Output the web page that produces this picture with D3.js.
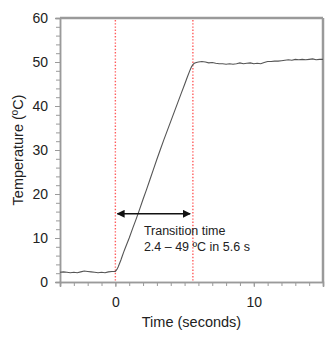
<!DOCTYPE html>
<html>
<head>
<meta charset="utf-8">
<script src="https://cdn.jsdelivr.net/npm/d3@7"></script>
<style>
  body { margin: 0; background: #fff; }
  text { font-family: "Liberation Sans", Arial, sans-serif; fill: #222; }
</style>
</head>
<body>
<svg id="chart" width="328" height="339"></svg>
<script>
// temperature trace
var times = [-4, -3.75, -3.5, -3.25, -3, -2.75, -2.5, -2.25, -2, -1.75, -1.5, -1.25, -1, -0.75, -0.5, -0.25, 0,
  0.1, 0.2, 0.3, 0.4, 0.5, 0.6, 0.7, 0.8, 1, 1.25, 1.5, 1.75, 2, 2.25, 2.5, 2.75, 3, 3.25, 3.5, 3.75, 4, 4.25, 4.5, 4.75, 5, 5.2, 5.4, 5.5, 5.6, 5.7, 5.85,
  6, 6.25, 6.5, 6.75, 7, 7.25, 7.5, 7.75, 8, 8.25, 8.5, 8.75, 9, 9.25, 9.5, 9.75, 10, 10.25, 10.5, 10.75, 11, 11.25, 11.5, 11.75,
  12, 12.25, 12.5, 12.75, 13, 13.25, 13.5, 13.75, 14, 14.25, 14.5, 14.75, 15];
var temps = [2.2, 2.3, 2.2, 2.1, 2.2, 2.1, 2.3, 2.5, 2.4, 2.3, 2.2, 2.1, 2.2, 2.1, 2.3, 2.4, 2.4,
  2.8, 3.4, 4.2, 5.0, 5.9, 6.8, 7.6, 8.4, 10.0, 12.2, 14.3, 16.5, 18.8, 21.0, 23.3, 25.6, 27.9, 30.1, 32.3, 34.4, 36.5, 38.6, 40.7, 42.8, 44.9, 46.6, 48.2, 48.9, 49.4, 49.7, 49.9,
  50.0, 50.1, 50.0, 49.8, 49.9, 49.7, 49.6, 49.6, 49.5, 49.6, 49.5, 49.6, 49.8, 49.6, 49.7, 49.8, 49.6, 49.7, 49.6, 49.9, 50.1, 50.1, 50.2, 50.2,
  50.3, 50.4, 50.5, 50.4, 50.6, 50.5, 50.6, 50.5, 50.6, 50.7, 50.5, 50.6, 50.6];

var markerTimes = [0, 5.6];       // red dotted lines
var arrowSpan = [0.15, 5.4];      // transition arrow, seconds
var arrowTemp = 15.5;
var noteLines = ["Transition time", "2.4 \u2013 49 \u00BAC in 5.6 s"];
var xMajor = [0, 10];
var yMajor = [0, 10, 20, 30, 40, 50, 60];

var margin = {top: 18, right: 5, bottom: 57, left: 60};
var w = 328, h = 339;
var iw = w - margin.left - margin.right;
var ih = h - margin.top - margin.bottom;

var svg = d3.select("#chart");
var g = svg.append("g").attr("transform", "translate(" + margin.left + "," + margin.top + ")");

var x = d3.scaleLinear().domain([-4, 15]).range([0, iw]);
var y = d3.scaleLinear().domain([0, 60]).range([ih, 0]);

var axisColor = "#9a9a9a";

// minor ticks
var xAxisMinor = d3.axisBottom(x).tickValues(d3.range(-4, 16, 1)).tickSize(4).tickFormat("");
var yAxisMinor = d3.axisLeft(y).tickValues(d3.range(0, 61, 2)).tickSize(4).tickFormat("");
g.append("g").attr("transform", "translate(0," + ih + ")").call(xAxisMinor);
g.append("g").call(yAxisMinor);

// major ticks with labels
var xAxis = d3.axisBottom(x).tickValues(xMajor).tickSize(5).tickPadding(10).tickFormat(d3.format("d"));
var yAxis = d3.axisLeft(y).tickValues(yMajor).tickSize(5).tickPadding(7).tickFormat(d3.format("d"));
g.append("g").attr("class", "xa").attr("transform", "translate(0," + ih + ")").call(xAxis);
g.append("g").attr("class", "ya").call(yAxis);

g.selectAll(".domain").attr("stroke", axisColor).attr("stroke-width", 1.5);
g.selectAll(".tick line").attr("stroke", axisColor);
g.selectAll(".tick text").style("font-size", "14px").attr("fill", "#222");

// top and right frame
g.append("line").attr("x1", 0).attr("x2", iw).attr("y1", 0).attr("y2", 0)
  .attr("stroke", axisColor).attr("stroke-width", 2.5);
g.append("line").attr("x1", iw).attr("x2", iw).attr("y1", 0).attr("y2", ih)
  .attr("stroke", axisColor).attr("stroke-width", 2.5);

// red dotted markers
g.selectAll(".marker").data(markerTimes).enter().append("line")
  .attr("class", "marker")
  .attr("x1", function(d) { return x(d); })
  .attr("x2", function(d) { return x(d); })
  .attr("y1", 2).attr("y2", ih)
  .attr("stroke", "#ff5c5c")
  .attr("stroke-width", 1.4)
  .attr("stroke-dasharray", "1.4,1.8");

// trace
var pts = times.map(function(t, i) { return [t, temps[i]]; });
var line = d3.line().x(function(d) { return x(d[0]); }).y(function(d) { return y(d[1]); });
g.append("path").datum(pts)
  .attr("d", line)
  .attr("fill", "none")
  .attr("stroke", "#555")
  .attr("stroke-width", 1.1);

// double arrow
var defs = svg.append("defs");
defs.append("marker").attr("id", "ah").attr("viewBox", "0 0 10 10")
  .attr("refX", 9).attr("refY", 5).attr("markerWidth", 5).attr("markerHeight", 5)
  .attr("orient", "auto-start-reverse")
  .append("path").attr("d", "M0,0L10,5L0,10z").attr("fill", "#111");
g.append("line")
  .attr("x1", x(arrowSpan[0])).attr("x2", x(arrowSpan[1]))
  .attr("y1", y(arrowTemp)).attr("y2", y(arrowTemp))
  .attr("stroke", "#111").attr("stroke-width", 1.6)
  .attr("marker-start", "url(#ah)").attr("marker-end", "url(#ah)");

// note
g.selectAll(".note").data(noteLines).enter().append("text")
  .attr("class", "note")
  .attr("x", x(2.06))
  .attr("y", function(d, i) { return 217 + i * 16; })
  .style("font-size", "12.5px")
  .text(function(d) { return d; });

// axis titles
svg.append("text")
  .attr("x", margin.left + iw / 2).attr("y", 327)
  .attr("text-anchor", "middle")
  .style("font-size", "14.5px")
  .text("Time (seconds)");
svg.append("text")
  .attr("transform", "translate(23," + (margin.top + ih / 2) + ") rotate(-90)")
  .attr("text-anchor", "middle")
  .style("font-size", "14.5px")
  .text("Temperature (\u00BAC)");
</script>
</body>
</html>
